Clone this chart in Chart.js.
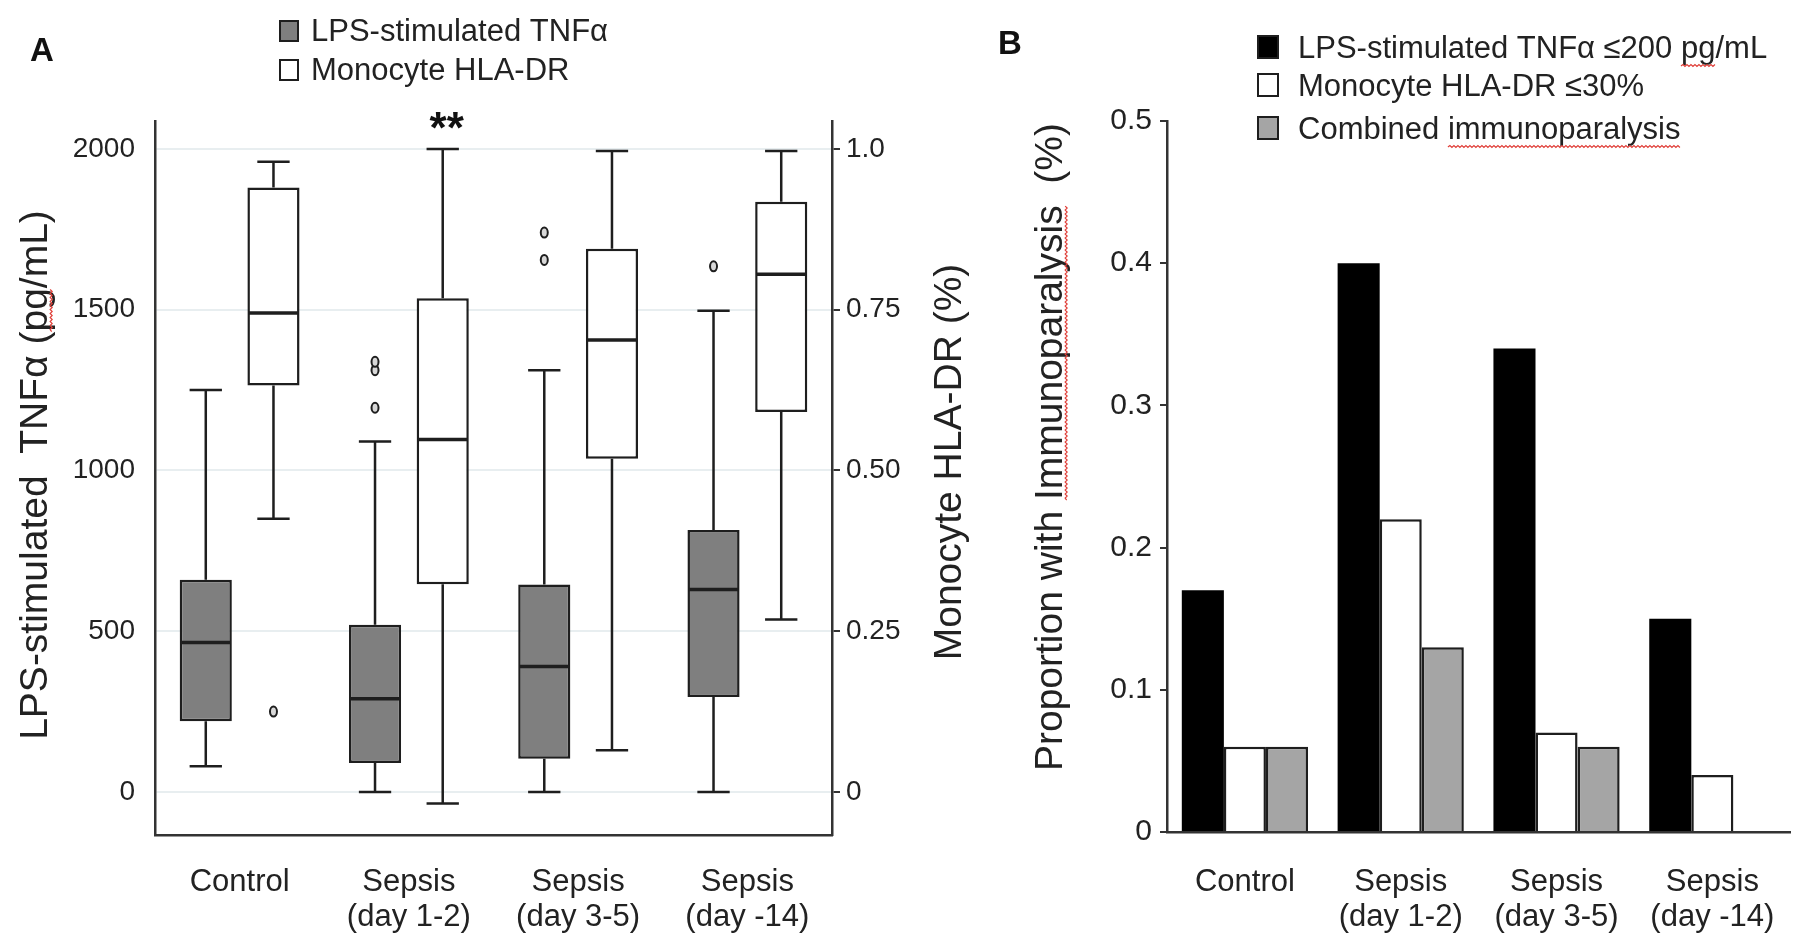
<!DOCTYPE html>
<html>
<head>
<meta charset="utf-8">
<script src="https://cdn.jsdelivr.net/npm/chart.js@4.4.1/dist/chart.umd.min.js"></script>
<style>
body { margin:0; background:#fff; width:1800px; height:947px; overflow:hidden; position:relative; }
canvas { position:absolute; top:0; }
#chartA { left:0; }
#chartB { left:960px; }
</style>
</head>
<body>
<canvas id="chartA" width="990" height="947"></canvas>
<canvas id="chartB" width="840" height="947"></canvas>
<script>
// groups on the x axis (both panels)
var categories = ['Control', ['Sepsis', '(day 1-2)'], ['Sepsis', '(day 3-5)'], ['Sepsis', '(day -14)']];

// panel A - LPS-stimulated TNFa (pg/mL), left axis
var tnfLow = [80, 0, 0, 0];
var tnfQ1 = [220, 90, 103, 295];
var tnfMedian = [465, 290, 390, 630];
var tnfQ3 = [660, 520, 645, 815];
var tnfHigh = [1250, 1090, 1312, 1497];
var tnfOutliers = [[], [1195, 1312, 1338], [1655, 1740], [1635]];

// panel A - Monocyte HLA-DR (fraction), right axis
var hlaLow = [0.425, -0.018, 0.065, 0.268];
var hlaQ1 = [0.632, 0.323, 0.518, 0.591];
var hlaMedian = [0.745, 0.548, 0.703, 0.805];
var hlaQ3 = [0.94, 0.768, 0.845, 0.918];
var hlaHigh = [0.98, 1.0, 0.997, 0.997];
var hlaOutliers = [[0.125], [], [], []];
var hlaStars = ['', '**', '', ''];

var leftTicks = [0, 500, 1000, 1500, 2000];
var rightTicks = [0, 0.25, 0.5, 0.75, 1.0];
var rightTickLabels = ['0', '0.25', '0.50', '0.75', '1.0'];

// panel B - proportion with immunoparalysis
var tnfLowProp = [0.17, 0.40, 0.34, 0.15];
var hlaLowProp = [0.06, 0.22, 0.07, 0.04];
var combinedProp = [0.06, 0.13, 0.06, 0];
var propTicks = [0, 0.1, 0.2, 0.3, 0.4, 0.5];

var fontName = "'Liberation Sans', Arial, sans-serif";
var ink = '#1e1e1e';

// red spell-check squiggle under part of a string drawn with textAlign left at (x0, baseline)
function squiggle(ctx, text, before, x0, baseline)
{
	var x1 = x0 + ctx.measureText(before).width;
	var x2 = x1 + ctx.measureText(text).width;
	ctx.save();
	ctx.strokeStyle = '#e0403a';
	ctx.lineWidth = 1.2;
	ctx.beginPath();
	var up = true;
	ctx.moveTo(x1, baseline + 5);
	for (var x = x1 + 2; x <= x2; x += 2)
	{
		ctx.lineTo(x, baseline + (up ? 3.5 : 5.5));
		up = !up;
	}
	ctx.stroke();
	ctx.restore();
}

// rotated (bottom to top) title, centred on cx, cy
function sideTitle(ctx, text, cx, cy, size, marks)
{
	ctx.save();
	ctx.font = size + 'px ' + fontName;
	ctx.fillStyle = '#222';
	ctx.textAlign = 'left';
	ctx.textBaseline = 'alphabetic';
	ctx.translate(cx, cy);
	ctx.rotate(-Math.PI / 2);
	var w = ctx.measureText(text).width;
	var base = size * 0.35;
	ctx.fillText(text, -w / 2, base);
	if (marks)
	{
		squiggle(ctx, marks[0], text.substring(0, text.indexOf(marks[0])), -w / 2, base);
	}
	ctx.restore();
}

/*
Draws whiskers, caps, medians and outliers on top of the floating bars (boxes)
*/
var boxParts = {
	id: 'boxParts',
	afterDatasetsDraw: function(chart)
	{
		var ctx = chart.ctx;
		var sets = [
			{meta: chart.getDatasetMeta(0), axis: chart.scales.y, low: tnfLow, q1: tnfQ1, med: tnfMedian, q3: tnfQ3, high: tnfHigh, out: tnfOutliers},
			{meta: chart.getDatasetMeta(1), axis: chart.scales.y2, low: hlaLow, q1: hlaQ1, med: hlaMedian, q3: hlaQ3, high: hlaHigh, out: hlaOutliers}
		];
		ctx.save();
		ctx.strokeStyle = ink;
		sets.forEach(function(s) {
			s.meta.data.forEach(function(bar, i) {
				var x = bar.x, w = bar.width, cap = w * 0.62;
				var pLow = s.axis.getPixelForValue(s.low[i]);
				var pQ1 = s.axis.getPixelForValue(s.q1[i]);
				var pMed = s.axis.getPixelForValue(s.med[i]);
				var pQ3 = s.axis.getPixelForValue(s.q3[i]);
				var pHigh = s.axis.getPixelForValue(s.high[i]);
				ctx.lineWidth = 2.5;
				ctx.beginPath();
				ctx.moveTo(x, pQ3); ctx.lineTo(x, pHigh);
				ctx.moveTo(x, pQ1); ctx.lineTo(x, pLow);
				ctx.moveTo(x - cap / 2, pHigh); ctx.lineTo(x + cap / 2, pHigh);
				ctx.moveTo(x - cap / 2, pLow); ctx.lineTo(x + cap / 2, pLow);
				ctx.stroke();
				ctx.lineWidth = 3.5;
				ctx.beginPath();
				ctx.moveTo(x - w / 2 + 1, pMed); ctx.lineTo(x + w / 2 - 1, pMed);
				ctx.stroke();
				ctx.lineWidth = 2;
				s.out[i].forEach(function(v) {
					var py = s.axis.getPixelForValue(v);
					ctx.beginPath();
					ctx.ellipse(x, py, 3.5, 5, 0, 0, Math.PI * 2);
					ctx.fillStyle = '#d8d8d8';
					ctx.fill();
					ctx.stroke();
				});
			});
		});
		ctx.restore();
	}
};

/*
Panel letter, legend, rotated axis titles and significance stars for panel A
*/
var decorA = {
	id: 'decorA',
	afterDraw: function(chart)
	{
		var ctx = chart.ctx;
		ctx.save();
		ctx.fillStyle = '#111';
		ctx.font = 'bold 33px ' + fontName;
		ctx.textAlign = 'center';
		ctx.textBaseline = 'middle';
		ctx.fillText('A', 42, 52);

		ctx.font = '31px ' + fontName;
		ctx.textAlign = 'left';
		var rows = [31, 70];
		chart.data.datasets.forEach(function(ds, i) {
			ctx.fillStyle = ds.backgroundColor;
			ctx.fillRect(280, rows[i] - 10, 18, 20);
			ctx.strokeStyle = ink;
			ctx.lineWidth = 2;
			ctx.strokeRect(280, rows[i] - 10, 18, 20);
			ctx.fillStyle = '#222';
			ctx.fillText(ds.label, 311, rows[i] + 1);
		});
		ctx.restore();

		sideTitle(ctx, 'LPS-stimulated  TNFα (pg/mL)', 33, 475, 39, ['pg']);
		sideTitle(ctx, 'Monocyte HLA-DR (%)', 947, 462, 39);

		var meta = chart.getDatasetMeta(1);
		ctx.save();
		ctx.font = 'bold 44px ' + fontName;
		ctx.textAlign = 'center';
		ctx.textBaseline = 'alphabetic';
		ctx.fillStyle = '#111';
		hlaStars.forEach(function(s, i) {
			if (s == '') return;
			var py = chart.scales.y2.getPixelForValue(hlaHigh[i]);
			ctx.fillText(s, meta.data[i].x + 4, py - 6);
		});
		ctx.restore();
	}
};

/*
Panel letter, legend and axis title for panel B
*/
var decorB = {
	id: 'decorB',
	afterDraw: function(chart)
	{
		var ctx = chart.ctx;
		ctx.save();
		ctx.fillStyle = '#111';
		ctx.font = 'bold 33px ' + fontName;
		ctx.textAlign = 'center';
		ctx.textBaseline = 'middle';
		ctx.fillText('B', 50, 45);

		ctx.font = '31px ' + fontName;
		ctx.textAlign = 'left';
		ctx.textBaseline = 'alphabetic';
		var rows = [47, 85, 128];
		var marked = ['pg', '', 'immunoparalysis'];
		chart.data.datasets.forEach(function(ds, i) {
			ctx.fillStyle = ds.backgroundColor;
			ctx.fillRect(298, rows[i] - 11, 20, 22);
			ctx.strokeStyle = ink;
			ctx.lineWidth = 2;
			ctx.strokeRect(298, rows[i] - 11, 20, 22);
			ctx.fillStyle = '#222';
			ctx.fillText(ds.label, 338, rows[i] + 11);
			if (marked[i] != '')
			{
				squiggle(ctx, marked[i], ds.label.substring(0, ds.label.indexOf(marked[i])), 338, rows[i] + 11 + 3);
			}
		});
		ctx.restore();

		sideTitle(ctx, 'Proportion with Immunoparalysis  (%)', 88, 447, 39, ['Immunoparalysis']);
	}
};

var tickFont = {family: fontName, size: 28};
var catFont = {family: fontName, size: 31, lineHeight: 1.13};

var chartA = new Chart(document.getElementById('chartA').getContext('2d'), {
	type: 'bar',
	data: {
		labels: categories,
		datasets: [
			{
				label: 'LPS-stimulated TNFα',
				data: tnfQ1.map(function(v, i) { return [v, tnfQ3[i]]; }),
				yAxisID: 'y',
				backgroundColor: '#7f7f7f',
				borderColor: ink,
				borderWidth: 2.5,
				borderSkipped: false
			},
			{
				label: 'Monocyte HLA-DR',
				data: hlaQ1.map(function(v, i) { return [v, hlaQ3[i]]; }),
				yAxisID: 'y2',
				backgroundColor: '#ffffff',
				borderColor: ink,
				borderWidth: 2.5,
				borderSkipped: false
			}
		]
	},
	options: {
		responsive: false,
		animation: false,
		devicePixelRatio: 1,
		categoryPercentage: 0.8,
		barPercentage: 0.77,
		layout: { padding: { top: 121, left: 0, right: 0, bottom: 0 } },
		plugins: { legend: { display: false }, tooltip: { enabled: false } },
		scales: {
			x: {
				grid: { display: false },
				border: { display: true, color: '#333', width: 2.5 },
				ticks: { color: '#222', font: catFont, padding: 22, maxRotation: 0, autoSkip: false },
				afterFit: function(s) { s.height = 112; }
			},
			y: {
				position: 'left',
				min: -134,
				max: 2087,
				afterBuildTicks: function(s) { s.ticks = leftTicks.map(function(v) { return {value: v}; }); },
				grid: { color: '#e8eef0', lineWidth: 2, drawTicks: false },
				border: { color: '#333', width: 2.5 },
				ticks: { color: '#222', font: tickFont, padding: 20, callback: function(v) { return String(v); } },
				afterFit: function(s) { s.width = 155; }
			},
			y2: {
				position: 'right',
				min: -134 / 2000,
				max: 2087 / 2000,
				afterBuildTicks: function(s) { s.ticks = rightTicks.map(function(v) { return {value: v}; }); },
				grid: { drawOnChartArea: false, drawTicks: true, tickLength: 8, color: '#333', lineWidth: 2 },
				border: { color: '#333', width: 2.5 },
				ticks: { color: '#222', font: tickFont, padding: 6, callback: function(v, i) { return rightTickLabels[i]; } },
				afterFit: function(s) { s.width = 158; }
			}
		}
	},
	plugins: [boxParts, decorA]
});

var chartB = new Chart(document.getElementById('chartB').getContext('2d'), {
	type: 'bar',
	data: {
		labels: categories,
		datasets: [
			{ label: 'LPS-stimulated TNFα ≤200 pg/mL', data: tnfLowProp, backgroundColor: '#000000', borderColor: '#000000', borderWidth: 0 },
			{ label: 'Monocyte HLA-DR ≤30%', data: hlaLowProp, backgroundColor: '#ffffff', borderColor: ink, borderWidth: 2.5 },
			{ label: 'Combined immunoparalysis', data: combinedProp, backgroundColor: '#a5a5a5', borderColor: ink, borderWidth: 2.5 }
		]
	},
	options: {
		responsive: false,
		animation: false,
		devicePixelRatio: 1,
		categoryPercentage: 0.81,
		barPercentage: 1.0,
		layout: { padding: { top: 121, left: 0, right: 5, bottom: 0 } },
		plugins: { legend: { display: false }, tooltip: { enabled: false } },
		scales: {
			x: {
				grid: { display: false },
				border: { display: true, color: '#333', width: 2.5 },
				ticks: { color: '#222', font: catFont, padding: 25, maxRotation: 0, autoSkip: false },
				afterFit: function(s) { s.height = 115; }
			},
			y: {
				min: 0,
				max: 0.5,
				afterBuildTicks: function(s) { s.ticks = propTicks.map(function(v) { return {value: v}; }); },
				grid: { drawOnChartArea: false, drawTicks: true, tickLength: 7, color: '#333', lineWidth: 2 },
				border: { color: '#333', width: 2.5 },
				ticks: { color: '#222', font: {family: fontName, size: 30}, padding: 8, callback: function(v) { return v == 0 ? '0' : v.toFixed(1); } },
				afterFit: function(s) { s.width = 207; }
			}
		}
	},
	plugins: [decorB]
});
</script>
</body>
</html>
